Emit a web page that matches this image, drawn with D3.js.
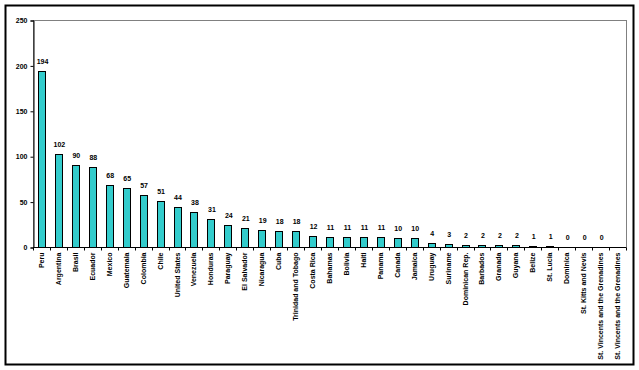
<!DOCTYPE html>
<html lang="en">
<head>
<meta charset="UTF-8">
<title>Bar chart</title>
<style>
    body { margin: 0; background: #fff; }
    text { font-family: "Liberation Sans", Arial, sans-serif; fill: #000; }
</style>
</head>
<body>
<div class="chart"></div>
<script src="https://d3js.org/d3.v7.min.js"></script>
<script type="text/javascript">
var countries = ['Peru', 'Argentina', 'Brasil', 'Ecuador', 'Mexico', 'Guatemala', 'Colombia',
    'Chile', 'United States', 'Venezuela', 'Honduras', 'Paraguay', 'El Salvador', 'Nicaragua',
    'Cuba', 'Trinidad and Tobago', 'Costa Rica', 'Bahamas', 'Bolivia', 'Haiti', 'Panama',
    'Canada', 'Jamaica', 'Uruguay', 'Suriname', 'Dominican Rep.', 'Barbados', 'Granada',
    'Guyana', 'Belize', 'St. Lucia', 'Dominica', 'St. Kitts and Nevis',
    'St. Vincents and the Grenadines', 'St. Vincents and the Grenadines '];
var counts = [194, 102, 90, 88, 68, 65, 57, 51, 44, 38, 31, 24, 21, 19, 18, 18, 12, 11, 11, 11, 11,
    10, 10, 4, 3, 2, 2, 2, 2, 1, 1, 0, 0, 0, null];
var yTicks = [0, 50, 100, 150, 200, 250];

var width = 639, height = 370;
var plotLeft = 33, plotRight = 626, plotTop = 20, plotBottom = 247;

var svg = d3.select(".chart").append("svg")
    .attr("width", width)
    .attr("height", height);

// outer frame
svg.append("rect")
    .attr("x", 5.5).attr("y", 5.5)
    .attr("width", 628).attr("height", 359)
    .style("fill", "none").style("stroke", "black").style("stroke-width", 2);

var x = d3.scaleBand().domain(countries).range([plotLeft, plotRight]);
var y = d3.scaleLinear().domain([0, 250]).range([plotBottom, plotTop]);

// plot area border (grey)
svg.append("rect")
    .attr("x", plotLeft + 0.5).attr("y", y(250) + 0.5)
    .attr("width", plotRight - plotLeft).attr("height", plotBottom - y(250))
    .style("fill", "none").style("stroke", "#808080").style("stroke-width", 1);

var data = countries.map(function(c, i) { return { name: c, value: counts[i] }; });
var shown = data.filter(function(d) { return d.value !== null; });
var barW = 7;

svg.selectAll("rect.bar")
    .data(shown)
    .enter().append("rect")
    .attr("class", "bar")
    .attr("x", function(d) { return Math.round(x(d.name) + x.bandwidth() / 2 - barW / 2) + 0.5; })
    .attr("y", function(d) { return Math.round(y(d.value)) + 0.5; })
    .attr("width", barW)
    .attr("height", function(d) { return plotBottom - Math.round(y(d.value)); })
    .style("fill", "#33CCCC")
    .style("stroke", "black")
    .style("stroke-width", 1);

svg.selectAll("text.val")
    .data(shown)
    .enter().append("text")
    .attr("class", "val")
    .attr("x", function(d) { return x(d.name) + x.bandwidth() / 2 + 1; })
    .attr("y", function(d) { return y(d.value) - 7; })
    .attr("text-anchor", "middle")
    .style("font-size", "7px")
    .style("font-weight", "bold")
    .text(function(d) { return d.value; });

// y axis
var yAxis = svg.append("g")
    .attr("transform", "translate(" + (plotLeft + 0.5) + ",0.5)")
    .call(d3.axisLeft(y).tickValues(yTicks).tickSize(3).tickPadding(3));
yAxis.select(".domain").attr("stroke", "black");
yAxis.selectAll("text").style("font-size", "7px").style("font-weight", "bold")
    .attr("font-family", null).attr("fill", null);

// x axis
var xAxisG = svg.append("g").attr("transform", "translate(0," + (plotBottom + 0.5) + ")");
xAxisG.append("line")
    .attr("x1", plotLeft).attr("x2", plotRight)
    .style("stroke", "black");
xAxisG.selectAll("line.tick")
    .data(countries.concat(["__end"]))
    .enter().append("line")
    .attr("class", "tick")
    .attr("x1", function(d, i) { return Math.round(plotLeft + i * x.step()) + 0.5; })
    .attr("x2", function(d, i) { return Math.round(plotLeft + i * x.step()) + 0.5; })
    .attr("y1", 0).attr("y2", 3)
    .style("stroke", "black");
xAxisG.selectAll("text")
    .data(countries)
    .enter().append("text")
    .attr("transform", function(d) {
        return "translate(" + (x(d) + x.bandwidth() / 2 + 2.5) + ",5) rotate(-90)";
    })
    .attr("text-anchor", "end")
    .style("font-size", "7px")
    .style("font-weight", "bold")
    .text(function(d) { return d.trim(); });
</script>
</body>
</html>
